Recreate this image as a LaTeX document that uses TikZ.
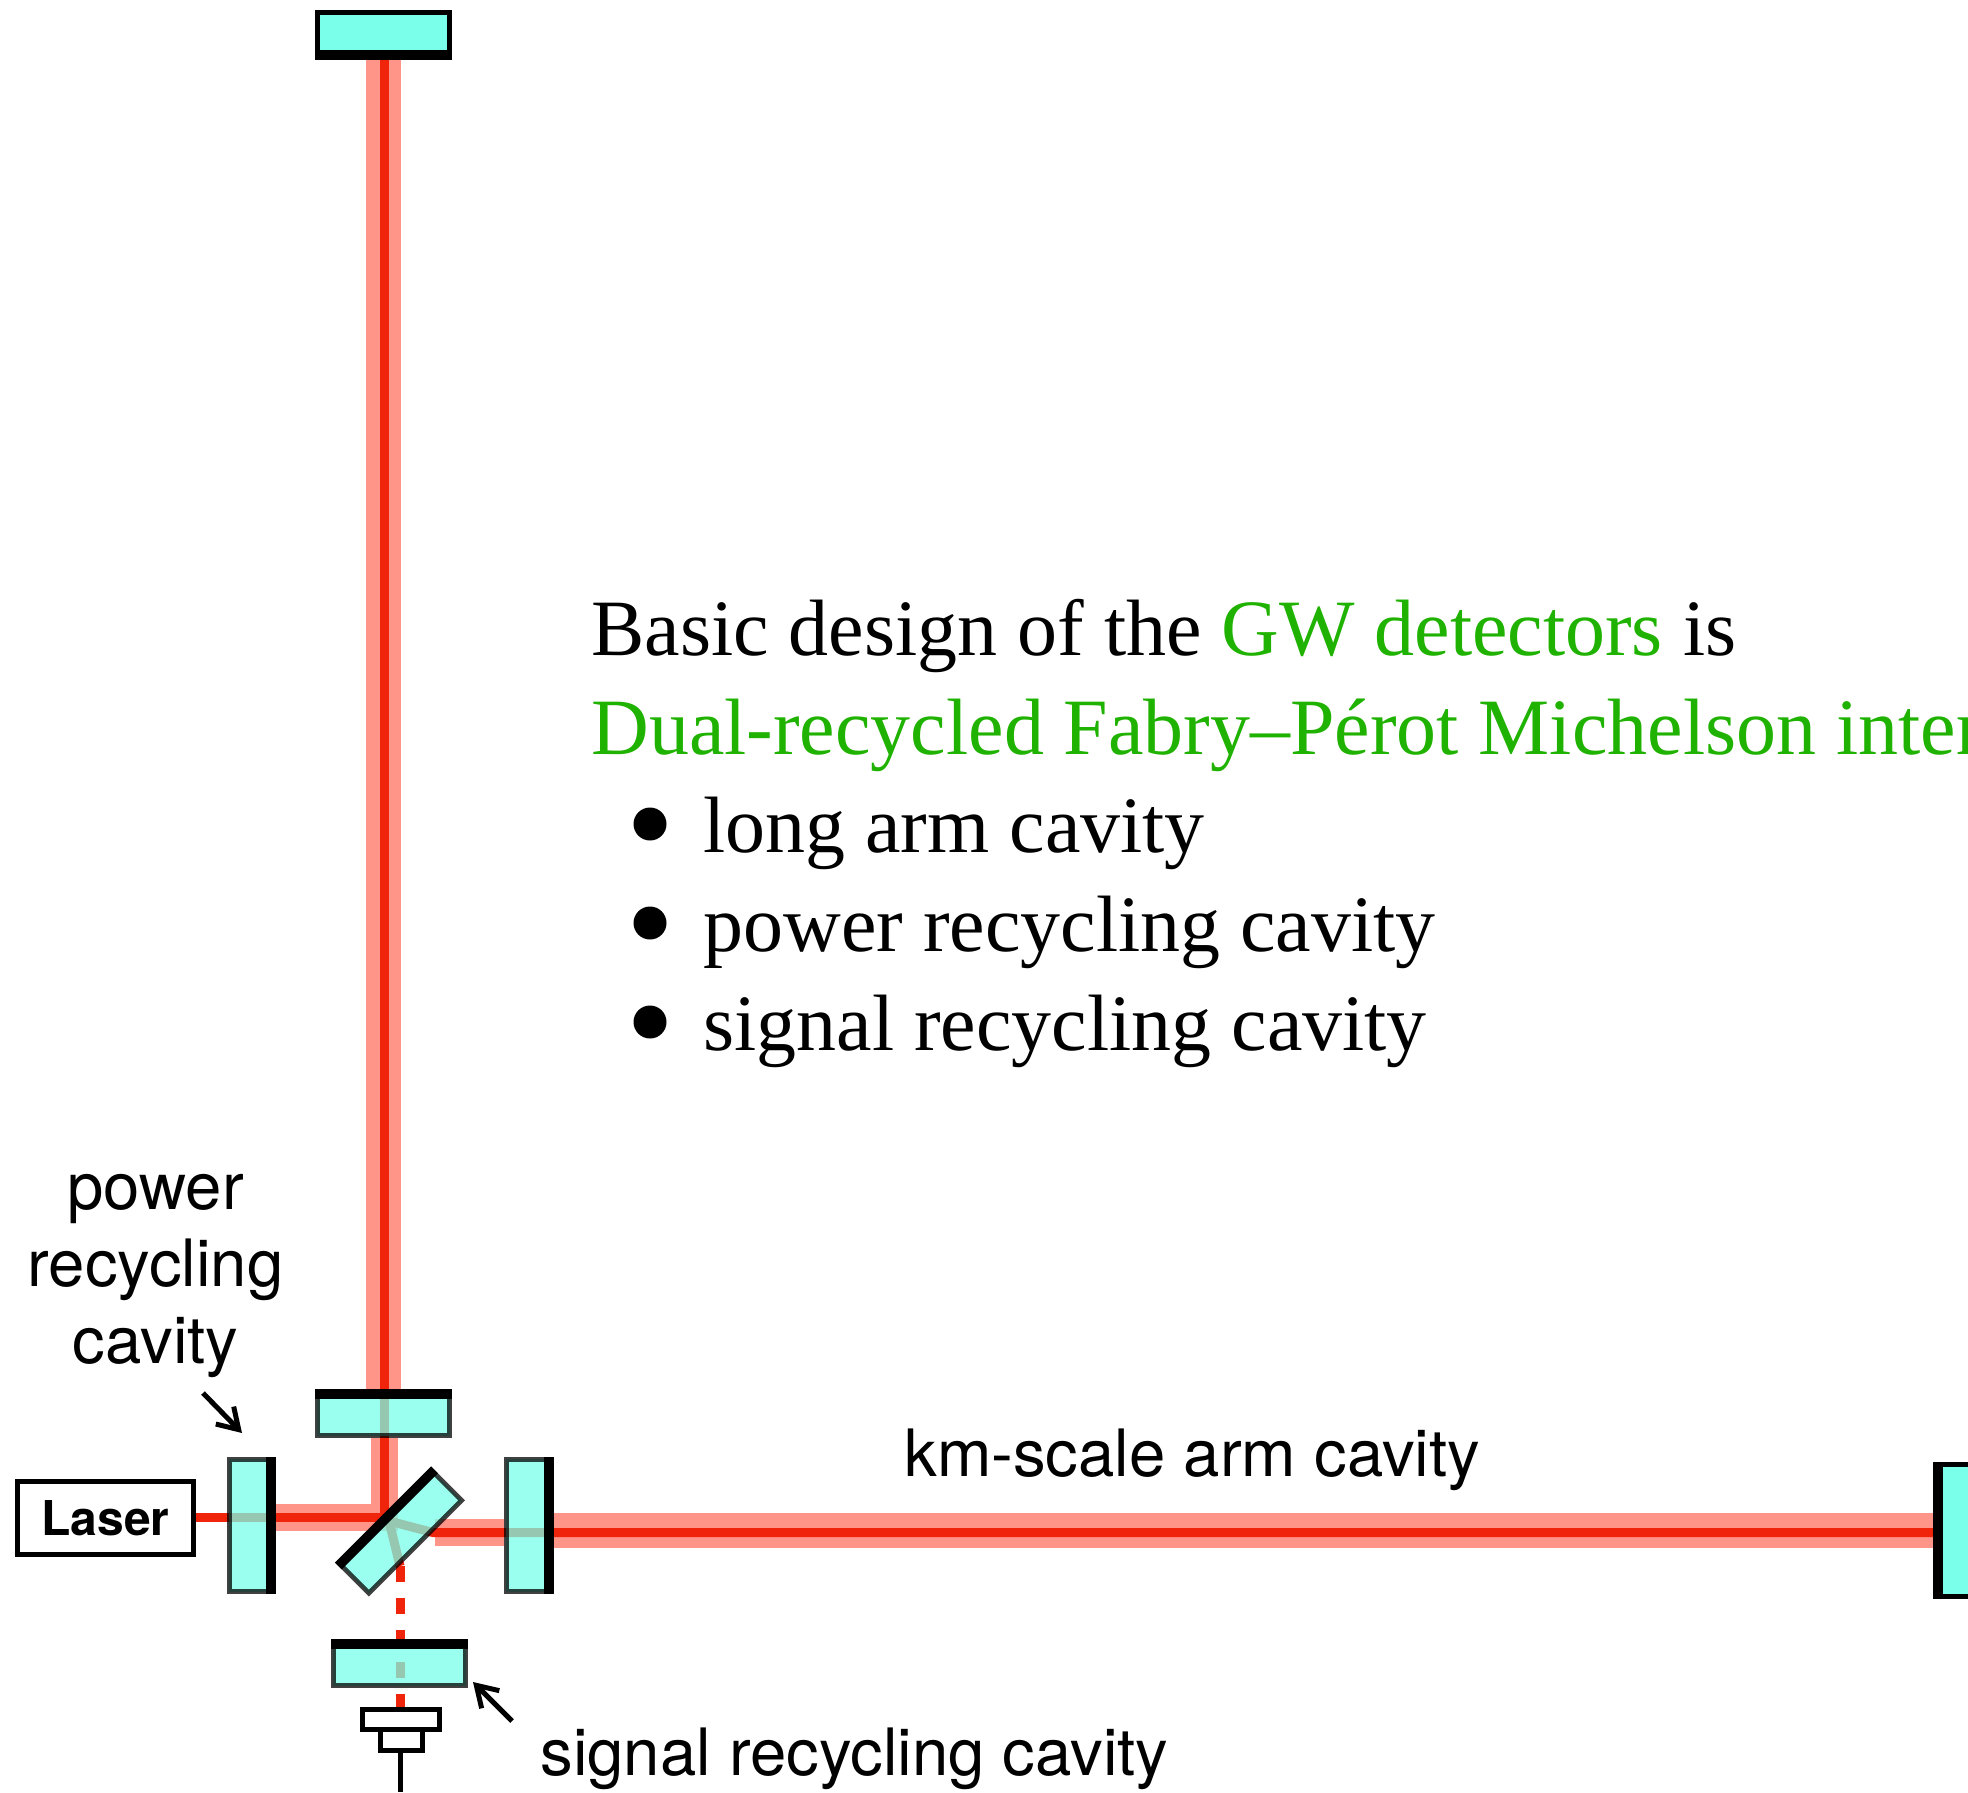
\documentclass[tikz,border=0pt]{standalone}
\usepackage{fontspec}
\setmainfont{Liberation Serif}
\setsansfont{TeX Gyre Heros}
\usetikzlibrary{arrows.meta, positioning, calc, backgrounds}

\definecolor{mirrorcyan}{HTML}{79FFEA}
\definecolor{beamred}{HTML}{F0240A}
\definecolor{beamlight}{HTML}{FF9488}
\definecolor{gwgreen}{HTML}{1FB200}

\tikzset{
    mirror/.style={rectangle, draw=black, fill=mirrorcyan, line width=2.4pt, inner sep=0pt, opacity=0.75},
    endmirror/.style={rectangle, draw=black, fill=mirrorcyan, line width=2.5pt, inner sep=0pt},
    boxnode/.style={rectangle, draw=black, fill=white, line width=2.5pt, inner sep=0pt},
    corebeam/.style={draw=beamred, line width=4.5pt},
    lightbeam/.style={draw=beamlight, line width=13.5pt},
    armbeam/.style={draw=beamlight, line width=17.5pt},
    callout/.style={-{Straight Barb[length=10pt, width=12.5pt]}, line width=2.5pt},
    sans/.style={font=\sffamily\fontsize{32.65}{38.5}\selectfont, inner sep=0pt},
    serif/.style={font=\fontsize{39.95}{49}\selectfont, inner sep=0pt, anchor=base west},
    bulletmark/.style={circle, fill, inner sep=0pt, minimum size=16.5pt}
}

\begin{document}
\begin{tikzpicture}[x=0.5pt, y=-0.5pt]
    \useasboundingbox (0,0) rectangle (1968,1792);

    % optics
    \node[endmirror, minimum width=66pt, minimum height=22.5pt] (etmy) at (383.5,35) {};
    \node[mirror, minimum width=66.1pt, minimum height=22.1pt] (itmy) at (383.5,1413.5) {};
    \node[mirror, minimum width=22.1pt, minimum height=66.1pt] (prm) at (251.5,1525.5) {};
    \node[mirror, minimum width=22.6pt, minimum height=66.1pt] (itmx) at (529,1525.5) {};
    \node[mirror, minimum width=65.6pt, minimum height=21.6pt, rotate=45] (bs) at (400,1531.5) {};
    \node[mirror, minimum width=66.1pt, minimum height=22.1pt] (srm) at (399.5,1663.5) {};
    \node[endmirror, minimum width=40pt, minimum height=66pt, anchor=west] (etmx) at (1933,1530.5) {};

    % laser and photodetector
    \node[boxnode, minimum width=88pt, minimum height=36.5pt] (laser) at (105.5,1518) {\sffamily\bfseries\fontsize{24}{24}\selectfont Laser};
    \node[boxnode, minimum width=38.5pt, minimum height=10pt] (pdtop) at (401,1719.5) {};
    \node[boxnode, minimum width=21pt, minimum height=10.5pt, below=-2.5pt of pdtop] (pdbase) {};
    \coordinate (pdend) at (400,1792);
    \draw[line width=2.5pt] (pdbase.south -| pdend) -- (pdend);

    % beams sit behind the optics
    \coordinate (bsin) at (384,1517.5);
    \coordinate (bsx) at (389,1521);
    \coordinate (bsout) at (433,1532.5);
    \coordinate (bsdown) at (400,1566);
    \coordinate (army) at (0,1530.5);
    \coordinate (bsedge) at (435,1532.5);
    \begin{pgfonlayer}{background}
        \draw[armbeam] (etmy.south) -- (itmy.north);
        \draw[armbeam] (itmx.east |- army) -- (etmx.west |- army);
        \draw[lightbeam] (prm.east |- bsin) -- (bsin) -- (bsin |- itmy.south);
        \draw[lightbeam] (bsedge) -- (itmx.west |- bsedge);
        \draw[corebeam] (laser.east |- bsin) -- (bsin) -- (bsin |- etmy.south);
        \draw[corebeam] (bsx) -- (bsout) -- (etmx.west |- bsout);
        \draw[corebeam] (bsx) -- (bsdown);
        \draw[corebeam, dash pattern=on 8pt off 8pt] (bsdown) -- (pdtop.north -| bsdown);
    \end{pgfonlayer}

    % reflective faces
    \fill (etmy.south west) rectangle ($(etmy.north east)!0.8!(etmy.south east)$);
    \fill (itmy.north west) rectangle ($(itmy.north east)!0.2!(itmy.south east)$);
    \fill (prm.north east) rectangle ($(prm.south east)!0.2!(prm.south west)$);
    \fill (itmx.north east) rectangle ($(itmx.south east)!0.2!(itmx.south west)$);
    \fill (srm.north west) rectangle ($(srm.north east)!0.2!(srm.south east)$);
    \fill (etmx.north west) rectangle ([xshift=5pt]etmx.south west);
    \fill (bs.north west) -- (bs.north east) -- ($(bs.north east)!0.2!(bs.south east)$) -- ($(bs.north west)!0.2!(bs.south west)$) -- cycle;

    % labels
    \node[sans, align=center] (powerlabel) at (155.5,1276.5) {power\\recycling\\cavity};
    \node[sans, anchor=base west] (armlabel) at (904,1476) {km-scale arm cavity};
    \node[sans, anchor=base west] (signallabel) at (540,1775) {signal recycling cavity};
    \coordinate (powerarrow) at (203,1393);
    \coordinate (powertip) at (242,1433);
    \coordinate (signalarrow) at (512,1721);
    \coordinate (signaltip) at (473,1682);
    \draw[callout] (powerarrow) -- (powertip);
    \draw[callout] (signalarrow) -- (signaltip);

    % text block
    \node[serif] (line1) at (591,655) {Basic design of the \textcolor{gwgreen}{GW detectors} is};
    \node[serif, text=gwgreen] (line2) at (591,754) {Dual-recycled Fabry–Pérot Michelson interferometer};
    \node[serif] (item1) at (703,852) {long arm cavity};
    \node[serif] (item2) at (703,951) {power recycling cavity};
    \node[serif] (item3) at (703,1050) {signal recycling cavity};
    \foreach \name/\ypos in {b1/824, b2/923, b3/1022} {
        \node[bulletmark] (\name) at (650,\ypos) {};
    }
\end{tikzpicture}
\end{document}
